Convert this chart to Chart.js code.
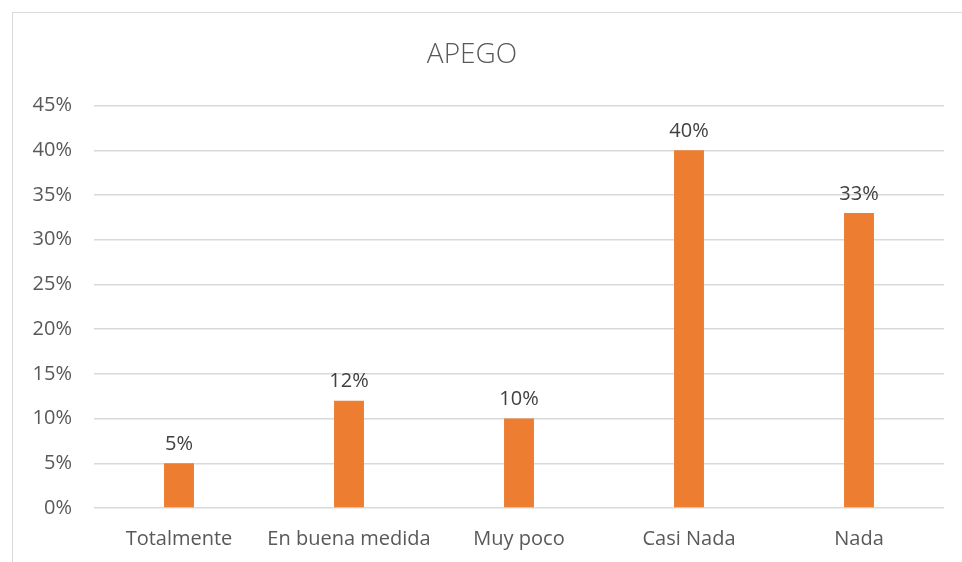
<!DOCTYPE html>
<html>
<head>
<meta charset="utf-8">
<script src="https://cdn.jsdelivr.net/npm/chart.js@4"></script>
<style>
  html, body { margin: 0; padding: 0; background: #fff; }
  #wrap { position: relative; width: 962px; height: 562px; overflow: hidden; }
  #frame { position: absolute; left: 12px; top: 12px; width: 1000px; height: 600px; border: 1px solid #d9d9d9; box-sizing: border-box; }
  canvas { position: absolute; left: 0; top: 0; }
</style>
</head>
<body>
<div id="wrap">
  <div id="frame"></div>
  <canvas id="c" width="962" height="562"></canvas>
</div>
<script>
const categories = ["Totalmente", "En buena medida", "Muy poco", "Casi Nada", "Nada"];
const values = [5, 12, 10, 40, 33];
const yTicks = [0, 5, 10, 15, 20, 25, 30, 35, 40, 45];

const FONT = "'Open Sans', Lato, sans-serif";

const dataLabels = {
  id: 'dataLabels',
  afterDatasetsDraw(chart) {
    const ctx = chart.ctx;
    const meta = chart.getDatasetMeta(0);
    ctx.save();
    ctx.font = "20px " + FONT;
    ctx.fillStyle = "#404040";
    ctx.textAlign = "center";
    ctx.textBaseline = "bottom";
    meta.data.forEach((bar, i) => {
      ctx.fillText(values[i] + "%", bar.x, bar.y - 9);
    });
    ctx.restore();
  }
};

new Chart(document.getElementById('c'), {
  type: 'bar',
  data: {
    labels: categories,
    datasets: [{
      data: values,
      backgroundColor: '#ED7D31',
      categoryPercentage: 1,
      barPercentage: 0.176
    }]
  },
  options: {
    responsive: false,
    animation: false,
    layout: { padding: { top: 20, right: 18, bottom: 0, left: 0 } },
    plugins: {
      legend: { display: false },
      tooltip: { enabled: false },
      title: {
        display: true,
        text: 'APEGO',
        color: '#595959',
        font: { family: FONT, size: 28, weight: '300' },
        padding: { top: 18, bottom: 34 }
      }
    },
    scales: {
      x: {
        grid: { display: false, drawTicks: false },
        border: { display: false },
        ticks: { color: '#595959', font: { family: FONT, size: 20 }, padding: 19, maxRotation: 0 },
        afterFit(s) { s.height = 54; }
      },
      y: {
        min: 0, max: 45,
        afterBuildTicks(s) { s.ticks = yTicks.map(v => ({ value: v })); },
        grid: { color: '#d9d9d9', lineWidth: 1.5, drawTicks: false },
        border: { display: false },
        ticks: { color: '#595959', font: { family: FONT, size: 20 }, padding: 22, callback: v => v + '%' },
        afterFit(s) { s.width = 94; }
      }
    }
  },
  plugins: [dataLabels]
});
</script>
</body>
</html>
